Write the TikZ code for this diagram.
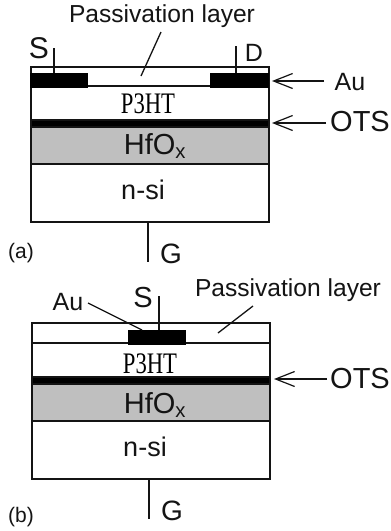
\documentclass[tikz,border=0pt]{standalone}
\usepackage{fontspec}
\setmainfont{Liberation Sans}
\newfontfamily\serifcond{Liberation Serif}
\usetikzlibrary{arrows.meta,calc}
\tikzset{
  lbl/.style={inner sep=0pt,font=\fontsize{#1}{#1}\selectfont,text=black!92},
  lbl/.default=24.6,
  layer/.style={draw=black!92,line width=1.5pt,inner sep=0pt,minimum width=238pt,anchor=north west},
  metal/.style={fill=black,draw=black,line width=0.5pt,inner sep=0pt,anchor=north west},
  wire/.style={draw=black!92,line width=1.3pt},
  barb/.style={draw=black!92,line width=1.2pt,-{Straight Barb[length=19pt,width=15pt,line width=1.2pt]}},
  p3ht/.style={inner sep=0pt},
}
\newcommand{\pthree}{\serifcond\fontsize{21}{21}\selectfont\scalebox{1.08}[1.42]{P3HT}}
\newcommand{\hfo}{HfO\textsubscript{x}}
\begin{document}
\begin{tikzpicture}[x=1pt,y=-1pt]
\useasboundingbox (0,0) rectangle (391,531);
\fill[white] (0,0) rectangle (391,531);
% ---- (a)
\node[layer,minimum height=19pt] (apass) at (30,66) {};
\node[layer,minimum height=34pt] (asemi) at (30,85) {};
\node[layer,fill=black,minimum height=7pt] (aots) at (30,119) {};
\node[layer,fill=black!25,minimum height=37pt] (ahf) at (30,126) {};
\node[layer,minimum height=58pt] (asi) at (30,163) {};
\node[metal,minimum width=57pt,minimum height=14pt] (asrc) at (30,73) {};
\node[metal,minimum width=58pt,minimum height=14pt] (adrn) at (210,73) {};
\node[p3ht] (at3) at (148,104) {\pthree};
\node[lbl=29] (ahft) at (155,146) {\hfo};
\node[lbl=27] (asit) at (143,190) {n-si};
\node[lbl] (apt) at (162,16) {Passivation layer};
\node[lbl=30] (aS) at (39,48) {S};
\node[lbl=25] (aD) at (254,53) {D};
\node[lbl=25] (aAu) at (350,82) {Au};
\node[lbl=29] (aO) at (360,122) {OTS};
\node[lbl=28] (aG) at (171,254) {G};
\node[lbl=21] (acap) at (21,253) {(a)};
\coordinate (aSt) at (54,48);
\coordinate (aDt) at (236,46);
\coordinate (aGb) at (148,262);
\coordinate (apa) at (161,32);
\coordinate (apb) at (141,76);
\coordinate (aAt) at (272,81);
\coordinate (aOt) at (272,123);
\coordinate (aAs) at (324,81);
\coordinate (aOs) at (326,123);
\draw[wire] (aSt) -- (aSt |- asrc.north);
\draw[wire] (aDt) -- (aDt |- adrn.north);
\draw[wire] (aGb |- asi.south) -- (aGb);
\draw[wire] (apa) -- (apb);
\draw[barb] (aAs) -- (aAt);
\draw[barb] (aOs) -- (aOt);
% ---- (b)
\node[layer,minimum height=20pt] (bpass) at (31,322) {};
\node[layer,minimum height=34pt] (bsemi) at (31,342) {};
\node[layer,fill=black,minimum height=7pt] (bots) at (31,376) {};
\node[layer,fill=black!25,minimum height=37pt] (bhf) at (31,383) {};
\node[layer,minimum height=58pt] (bsi) at (31,420) {};
\node[metal,minimum width=57pt,minimum height=14pt] (bsrc) at (128,330) {};
\node[p3ht] (bt3) at (150,364) {\pthree};
\node[lbl=29] (bhft) at (155,405) {\hfo};
\node[lbl=27] (bsit) at (145,447) {n-si};
\node[lbl] (bpt) at (288,290) {Passivation layer};
\node[lbl=29] (bS) at (143,298) {S};
\node[lbl=25] (bAu) at (68,302) {Au};
\node[lbl=29] (bO) at (360,379) {OTS};
\node[lbl=28] (bG) at (172,511) {G};
\node[lbl=21] (bcap) at (21,517) {(b)};
\coordinate (bSt) at (159,296);
\coordinate (bGb) at (149,519);
\coordinate (bpa) at (253,306);
\coordinate (bpb) at (218,333);
\coordinate (bAa) at (88,303);
\coordinate (bAb) at (142,330);
\coordinate (bOt) at (274,379);
\coordinate (bOs) at (327,379);
\draw[wire] (bSt) -- (bSt |- bsrc.north);
\draw[wire] (bGb |- bsi.south) -- (bGb);
\draw[wire] (bpa) -- (bpb);
\draw[wire] (bAa) -- (bAb);
\draw[barb] (bOs) -- (bOt);
\end{tikzpicture}
\end{document}
